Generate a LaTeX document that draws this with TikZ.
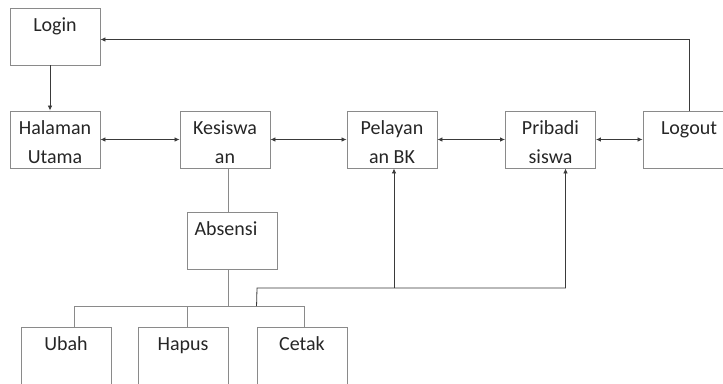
\documentclass[tikz,border=0pt]{standalone}
\usepackage{fontspec}
\setmainfont{Carlito}
\usetikzlibrary{arrows.meta}
\definecolor{boxline}{HTML}{8A8A8A}
\definecolor{wire}{HTML}{3A3A3A}
\definecolor{ink}{HTML}{262626}
\tikzset{
  box/.style={draw=boxline, line width=0.9bp, minimum width=90bp, minimum height=57bp, inner sep=0pt},
  txt/.style={anchor=base, inner sep=0pt, text=ink, font=\fontsize{20bp}{24bp}\selectfont},
  wire/.style={draw=wire, line width=0.8bp},
  tree/.style={draw=boxline, line width=0.9bp},
  tip/.style={-{Latex[length=5bp,width=4.5bp]}},
  both/.style={{Latex[length=5bp,width=4.5bp]}-{Latex[length=5bp,width=4.5bp]}}
}
\begin{document}
\begin{tikzpicture}[x=1bp,y=-1bp]
\useasboundingbox (0,0) rectangle (723,383);

% menu boxes
\node[box] (login)     at (55,36.5)    {};
\node[box] (halaman)   at (55,139.5)   {};
\node[box] (kesiswaan) at (225,139.5)  {};
\node[box] (pelayanan) at (392,139.5)  {};
\node[box] (pribadi)   at (550.5,139.5){};
\node[box, minimum width=92bp] (logout) at (689,139.5) {};
\node[box] (absensi)   at (232,240.5)  {};
\node[box, minimum height=62bp] (ubah)  at (66,358)  {};
\node[box, minimum height=62bp] (hapus) at (183,358) {};
\node[box, minimum height=62bp] (cetak) at (302,358) {};

% labels
\node[txt] at ([yshift=-23.5bp]login.north) {Login};
\node[txt] at ([yshift=-23.5bp]halaman.north) {Halaman};
\node[txt] at ([yshift=-52.5bp]halaman.north) {Utama};
\node[txt] at ([yshift=-23.5bp]kesiswaan.north) {Kesiswa};
\node[txt] at ([yshift=-52.5bp]kesiswaan.north) {an};
\node[txt] at ([yshift=-23.5bp]pelayanan.north) {Pelayan};
\node[txt] at ([yshift=-52.5bp]pelayanan.north) {an BK};
\node[txt] at ([yshift=-23.5bp]pribadi.north) {Pribadi};
\node[txt] at ([yshift=-52.5bp]pribadi.north) {siswa};
\node[txt] at ([yshift=-23.5bp]logout.north) {Logout};
\node[txt] at ([xshift=-6bp,yshift=-23.5bp]absensi.north) {Absensi};
\node[txt] at ([yshift=-23.5bp]ubah.north) {Ubah};
\node[txt] at ([yshift=-23.5bp]hapus.north) {Hapus};
\node[txt] at ([yshift=-23.5bp]cetak.north) {Cetak};

% navigation arrows
\draw[wire, tip] ([xshift=-5bp]login.south) -- ([xshift=-5bp]halaman.north);
\draw[wire, both] (halaman.east) -- (kesiswaan.west);
\draw[wire, both] (kesiswaan.east) -- (pelayanan.west);
\draw[wire, both] (pelayanan.east) -- (pribadi.west);
\draw[wire, both] (pribadi.east) -- (logout.west);
\draw[wire, tip] (logout.north) |- ([yshift=-3bp]login.east);

% Absensi sub-tree
\coordinate (j) at (228,306);
\coordinate (k) at (257,288);
\draw[tree] ([xshift=3bp]kesiswaan.south) -- ([xshift=3bp]kesiswaan.south |- absensi.north);
\draw[tree] (absensi.south -| j) -- (j);
\draw[tree] ([xshift=8bp]ubah.north) |- ([xshift=2bp]cetak.north |- j) -- ([xshift=2bp]cetak.north);
\draw[tree] ([xshift=4bp]hapus.north) -- ([xshift=4bp]hapus.north |- j);

% links up to Pelayanan BK and Pribadi siswa
\draw[wire, tip] (cetak.north west |- j) -- (k) -- ([xshift=15bp]pribadi.south |- k) -- ([xshift=15bp]pribadi.south);
\draw[wire, tip] ([xshift=2bp]pelayanan.south |- k) -- ([xshift=2bp]pelayanan.south);
\end{tikzpicture}
\end{document}
